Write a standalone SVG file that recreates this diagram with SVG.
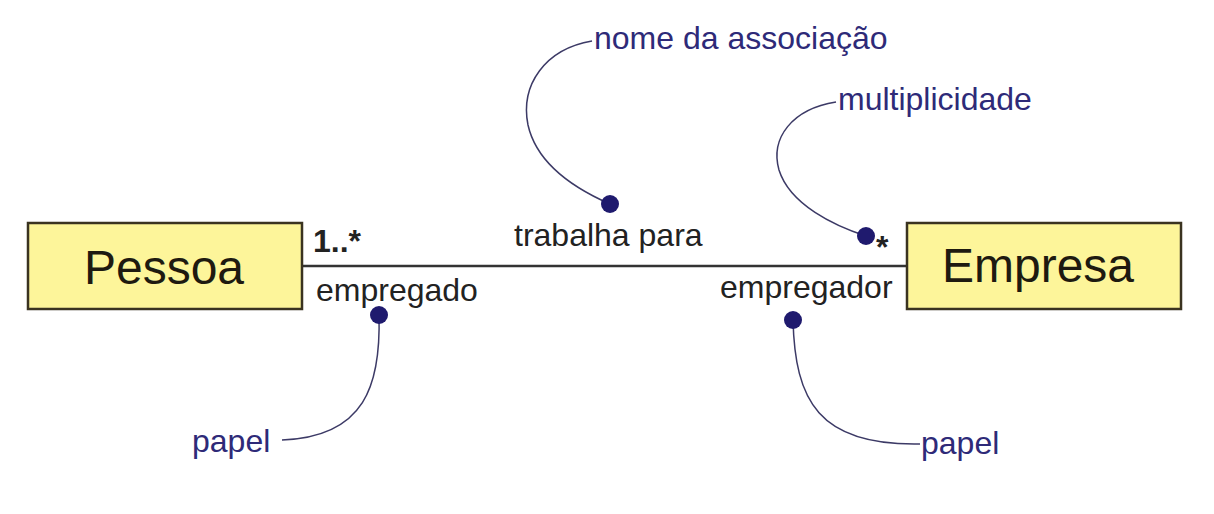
<svg xmlns="http://www.w3.org/2000/svg" width="1214" height="514" viewBox="0 0 1214 514">
<style>
.box{fill:#fdf59a;stroke:#3a3320;stroke-width:2.5}
.cls{font-family:"Liberation Sans",Arial,sans-serif;font-size:48px;fill:#1e1a10;text-anchor:middle}
.lbl{font-family:"Liberation Sans",Arial,sans-serif;font-size:32px;fill:#222}
.note{font-family:"Liberation Sans",Arial,sans-serif;font-size:32px;fill:#2e2a78}
.lead{fill:none;stroke:#3c3a66;stroke-width:1.5}
.dot{fill:#1f1a6e}
.assoc{stroke:#333;stroke-width:2.5;fill:none}
</style>
<rect width="1214" height="514" fill="#fff"/>
<g id="connectors">
<line class="assoc" x1="303" y1="266" x2="906" y2="266"/>
<path class="lead" d="M592,41 C545,49 520,85 528,125 C537,165 578,190 610,204"/>
<path class="lead" d="M836,102 C792,109 770,138 779,170 C790,205 835,226 866,236"/>
<path class="lead" d="M379,315 C381,385 365,437 282,440"/>
<path class="lead" d="M793,320 C795,400 818,446 920,444"/>
</g>
<g id="pessoa">
<rect class="box" x="28" y="223" width="274" height="86"/>
<text class="cls" x="164" y="284">Pessoa</text>
</g>
<g id="empresa">
<rect class="box" x="907" y="223" width="274" height="86"/>
<text class="cls" x="1038" y="282">Empresa</text>
</g>
<g id="assoc-labels">
<text class="lbl" x="313" y="252" font-weight="bold">1..*</text>
<text class="lbl" x="316" y="301">empregado</text>
<text class="lbl" x="514" y="246">trabalha para</text>
<text class="lbl" x="720" y="298">empregador</text>
<text class="lbl" x="876" y="258" font-weight="bold">*</text>
</g>
<g id="notes">
<circle class="dot" cx="610" cy="204" r="9"/>
<circle class="dot" cx="866" cy="236" r="9"/>
<circle class="dot" cx="379" cy="315" r="9"/>
<circle class="dot" cx="793" cy="320" r="9"/>
<text class="note" x="594" y="49">nome da associação</text>
<text class="note" x="838" y="110">multiplicidade</text>
<text class="note" x="192" y="452">papel</text>
<text class="note" x="921" y="454">papel</text>
</g>
</svg>
